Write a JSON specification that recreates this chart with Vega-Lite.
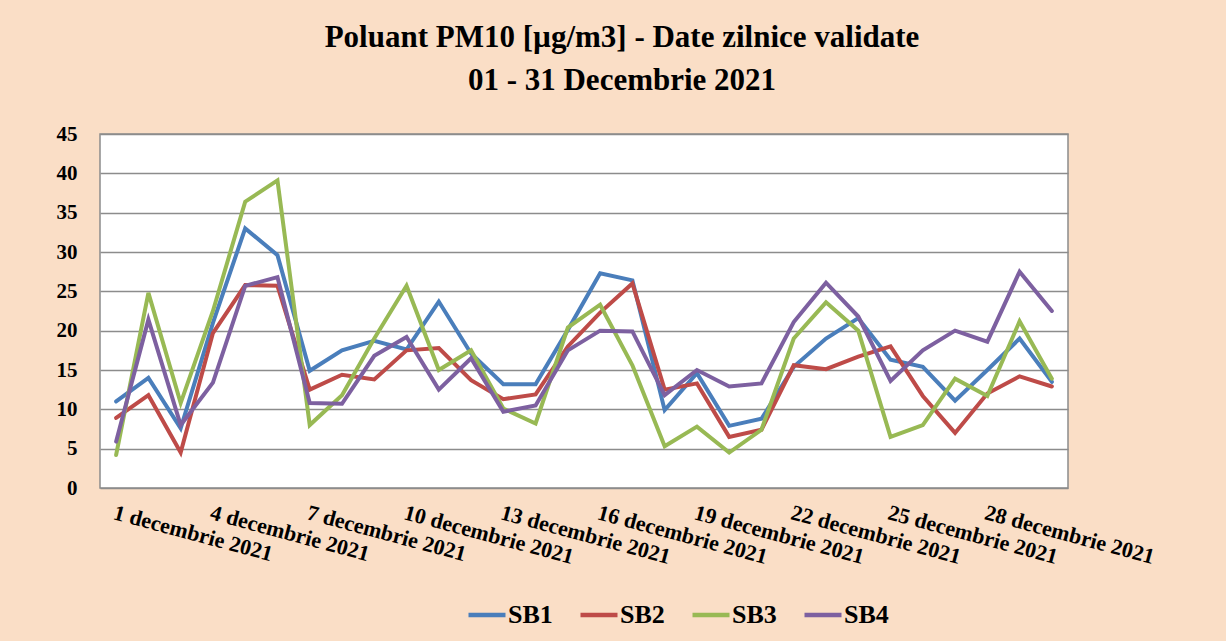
{
  "$schema": "https://vega.github.io/schema/vega-lite/v6.json",
  "width": 968,
  "height": 354,
  "autosize": {"type": "none"},
  "padding": {"left": 100, "top": 134, "right": 158, "bottom": 153},
  "background": "#FADEC6",
  "title": {
    "text": ["Poluant PM10 [µg/m3] - Date zilnice validate", "01 - 31 Decembrie 2021"],
    "font": "Liberation Serif",
    "fontWeight": "bold",
    "fontSize": 31,
    "lineHeight": 43,
    "color": "#000000",
    "anchor": "middle",
    "frame": "group",
    "dx": 38,
    "offset": 26
  },
  "config": {
    "view": {"fill": "#FFFFFF", "stroke": "#8C8C8C", "strokeWidth": 1.5}
  },
  "data": {
    "values": [
      {"day": 1, "station": "SB1", "value": 11.0}, {"day": 1, "station": "SB2", "value": 8.9}, {"day": 1, "station": "SB3", "value": 4.2}, {"day": 1, "station": "SB4", "value": 5.9},
      {"day": 2, "station": "SB1", "value": 14.0}, {"day": 2, "station": "SB2", "value": 11.8}, {"day": 2, "station": "SB3", "value": 24.8}, {"day": 2, "station": "SB4", "value": 21.4},
      {"day": 3, "station": "SB1", "value": 7.6}, {"day": 3, "station": "SB2", "value": 4.5}, {"day": 3, "station": "SB3", "value": 10.8}, {"day": 3, "station": "SB4", "value": 8.0},
      {"day": 4, "station": "SB1", "value": 21.0}, {"day": 4, "station": "SB2", "value": 19.7}, {"day": 4, "station": "SB3", "value": 22.5}, {"day": 4, "station": "SB4", "value": 13.4},
      {"day": 5, "station": "SB1", "value": 33.0}, {"day": 5, "station": "SB2", "value": 25.8}, {"day": 5, "station": "SB3", "value": 36.4}, {"day": 5, "station": "SB4", "value": 25.7},
      {"day": 6, "station": "SB1", "value": 29.6}, {"day": 6, "station": "SB2", "value": 25.7}, {"day": 6, "station": "SB3", "value": 39.1}, {"day": 6, "station": "SB4", "value": 26.8},
      {"day": 7, "station": "SB1", "value": 14.9}, {"day": 7, "station": "SB2", "value": 12.5}, {"day": 7, "station": "SB3", "value": 8.0}, {"day": 7, "station": "SB4", "value": 10.8},
      {"day": 8, "station": "SB1", "value": 17.5}, {"day": 8, "station": "SB2", "value": 14.4}, {"day": 8, "station": "SB3", "value": 11.8}, {"day": 8, "station": "SB4", "value": 10.7},
      {"day": 9, "station": "SB1", "value": 18.7}, {"day": 9, "station": "SB2", "value": 13.8}, {"day": 9, "station": "SB3", "value": 19.0}, {"day": 9, "station": "SB4", "value": 16.8},
      {"day": 10, "station": "SB1", "value": 17.6}, {"day": 10, "station": "SB2", "value": 17.5}, {"day": 10, "station": "SB3", "value": 25.7}, {"day": 10, "station": "SB4", "value": 19.2},
      {"day": 11, "station": "SB1", "value": 23.7}, {"day": 11, "station": "SB2", "value": 17.8}, {"day": 11, "station": "SB3", "value": 15.0}, {"day": 11, "station": "SB4", "value": 12.5},
      {"day": 12, "station": "SB1", "value": 17.1}, {"day": 12, "station": "SB2", "value": 13.7}, {"day": 12, "station": "SB3", "value": 17.5}, {"day": 12, "station": "SB4", "value": 16.5},
      {"day": 13, "station": "SB1", "value": 13.2}, {"day": 13, "station": "SB2", "value": 11.3}, {"day": 13, "station": "SB3", "value": 10.1}, {"day": 13, "station": "SB4", "value": 9.7},
      {"day": 14, "station": "SB1", "value": 13.2}, {"day": 14, "station": "SB2", "value": 11.9}, {"day": 14, "station": "SB3", "value": 8.2}, {"day": 14, "station": "SB4", "value": 10.5},
      {"day": 15, "station": "SB1", "value": 20.1}, {"day": 15, "station": "SB2", "value": 18.0}, {"day": 15, "station": "SB3", "value": 20.4}, {"day": 15, "station": "SB4", "value": 17.5},
      {"day": 16, "station": "SB1", "value": 27.3}, {"day": 16, "station": "SB2", "value": 22.3}, {"day": 16, "station": "SB3", "value": 23.3}, {"day": 16, "station": "SB4", "value": 20.0},
      {"day": 17, "station": "SB1", "value": 26.4}, {"day": 17, "station": "SB2", "value": 26.0}, {"day": 17, "station": "SB3", "value": 15.6}, {"day": 17, "station": "SB4", "value": 19.9},
      {"day": 18, "station": "SB1", "value": 9.9}, {"day": 18, "station": "SB2", "value": 12.5}, {"day": 18, "station": "SB3", "value": 5.3}, {"day": 18, "station": "SB4", "value": 11.8},
      {"day": 19, "station": "SB1", "value": 14.6}, {"day": 19, "station": "SB2", "value": 13.3}, {"day": 19, "station": "SB3", "value": 7.8}, {"day": 19, "station": "SB4", "value": 15.0},
      {"day": 20, "station": "SB1", "value": 7.9}, {"day": 20, "station": "SB2", "value": 6.5}, {"day": 20, "station": "SB3", "value": 4.5}, {"day": 20, "station": "SB4", "value": 12.9},
      {"day": 21, "station": "SB1", "value": 8.8}, {"day": 21, "station": "SB2", "value": 7.4}, {"day": 21, "station": "SB3", "value": 7.4}, {"day": 21, "station": "SB4", "value": 13.3},
      {"day": 22, "station": "SB1", "value": 15.4}, {"day": 22, "station": "SB2", "value": 15.6}, {"day": 22, "station": "SB3", "value": 19.0}, {"day": 22, "station": "SB4", "value": 21.1},
      {"day": 23, "station": "SB1", "value": 19.0}, {"day": 23, "station": "SB2", "value": 15.1}, {"day": 23, "station": "SB3", "value": 23.6}, {"day": 23, "station": "SB4", "value": 26.1},
      {"day": 24, "station": "SB1", "value": 21.6}, {"day": 24, "station": "SB2", "value": 16.7}, {"day": 24, "station": "SB3", "value": 20.0}, {"day": 24, "station": "SB4", "value": 21.8},
      {"day": 25, "station": "SB1", "value": 16.3}, {"day": 25, "station": "SB2", "value": 18.0}, {"day": 25, "station": "SB3", "value": 6.5}, {"day": 25, "station": "SB4", "value": 13.6},
      {"day": 26, "station": "SB1", "value": 15.4}, {"day": 26, "station": "SB2", "value": 11.7}, {"day": 26, "station": "SB3", "value": 8.0}, {"day": 26, "station": "SB4", "value": 17.5},
      {"day": 27, "station": "SB1", "value": 11.1}, {"day": 27, "station": "SB2", "value": 7.0}, {"day": 27, "station": "SB3", "value": 13.9}, {"day": 27, "station": "SB4", "value": 20.0},
      {"day": 28, "station": "SB1", "value": 15.0}, {"day": 28, "station": "SB2", "value": 12.0}, {"day": 28, "station": "SB3", "value": 11.7}, {"day": 28, "station": "SB4", "value": 18.6},
      {"day": 29, "station": "SB1", "value": 19.0}, {"day": 29, "station": "SB2", "value": 14.2}, {"day": 29, "station": "SB3", "value": 21.2}, {"day": 29, "station": "SB4", "value": 27.5},
      {"day": 30, "station": "SB1", "value": 13.5}, {"day": 30, "station": "SB2", "value": 12.9}, {"day": 30, "station": "SB3", "value": 13.9}, {"day": 30, "station": "SB4", "value": 22.5}
    ]
  },
  "mark": {"type": "line", "strokeWidth": 4, "strokeCap": "round", "strokeJoin": "miter"},
  "encoding": {
    "x": {
      "field": "day",
      "type": "ordinal",
      "sort": null,
      "scale": {"type": "point", "padding": 0.5},
      "axis": {
        "title": null,
        "values": [1, 4, 7, 10, 13, 16, 19, 22, 25, 28],
        "labelExpr": "datum.value + ' decembrie 2021'",
        "labelAngle": 15,
        "labelAlign": "left",
        "labelBaseline": "top",
        "labelPadding": 14,
        "labelOverlap": false,
        "labelFont": "Liberation Serif",
        "labelFontWeight": "bold",
        "labelFontSize": 22,
        "labelColor": "#000000",
        "ticks": false,
        "domain": false,
        "grid": false
      }
    },
    "y": {
      "field": "value",
      "type": "quantitative",
      "scale": {"domain": [0, 45], "nice": false},
      "axis": {
        "title": null,
        "values": [0, 5, 10, 15, 20, 25, 30, 35, 40, 45],
        "labelFont": "Liberation Serif",
        "labelFontWeight": "bold",
        "labelFontSize": 21,
        "labelColor": "#000000",
        "labelPadding": 23,
        "ticks": false,
        "domain": false,
        "grid": true,
        "gridColor": "#8C8C8C",
        "gridWidth": 1.5
      }
    },
    "color": {
      "field": "station",
      "type": "nominal",
      "scale": {"domain": ["SB1", "SB2", "SB3", "SB4"], "range": ["#4A7EBB", "#BE4B48", "#98B954", "#7D60A0"]},
      "legend": {
        "title": null,
        "orient": "none",
        "direction": "horizontal",
        "legendX": 366,
        "legendY": 460,
        "padding": 0,
        "symbolType": "stroke",
        "symbolSize": 1369,
        "symbolStrokeWidth": 4.5,
        "labelFont": "Liberation Serif",
        "labelFontWeight": "bold",
        "labelFontSize": 26,
        "labelColor": "#000000",
        "labelOffset": 0,
        "columnPadding": 18
      }
    }
  }
}
